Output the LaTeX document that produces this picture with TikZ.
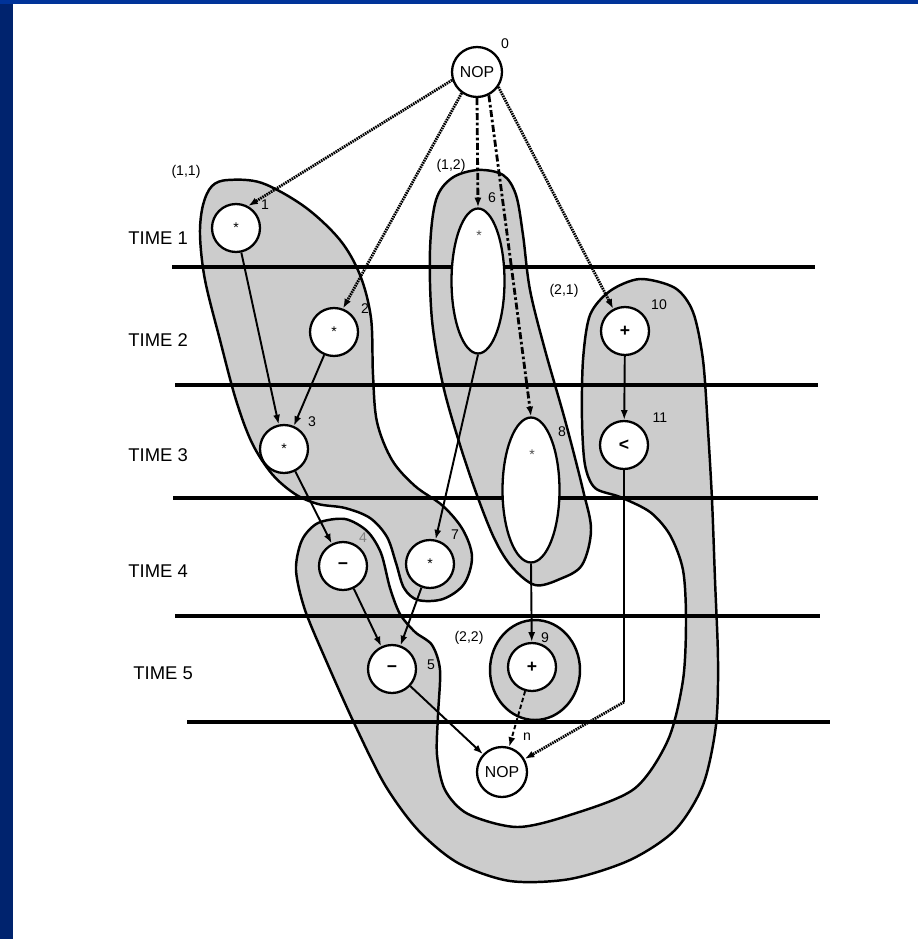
\documentclass[tikz,border=0pt]{standalone}
\usepackage{fontspec}
\setmainfont{Liberation Sans}
\usetikzlibrary{arrows.meta,shapes.geometric}
\definecolor{slideblue}{RGB}{0,51,153}
\definecolor{slidedark}{RGB}{0,35,110}
\definecolor{grp}{RGB}{204,204,204}
\begin{document}
\begin{tikzpicture}[x=0.02cm, y=-0.02cm,
    op/.style={circle, draw, line width=1.3pt, fill=white, minimum size=0.96cm, inner sep=0pt, font=\fontsize{10}{11}\selectfont\bfseries},
    nop/.style={op, minimum size=1cm, font=\fontsize{9}{10}\selectfont},
    oval/.style={ellipse, draw, line width=1.3pt, fill=white, minimum width=1.08cm, minimum height=2.9cm, inner sep=0pt},
    star/.style={font=\fontsize{8}{9}\selectfont, text=black!70, inner sep=0pt},
    num/.style={font=\fontsize{8}{9}\selectfont, inner sep=0pt},
    timelbl/.style={font=\fontsize{10.5}{12}\selectfont, anchor=west, inner sep=0pt},
    group/.style={fill=grp, draw, line width=1.4pt},
    tline/.style={line width=2.1pt},
    dep/.style={line width=1.1pt, -{Latex[length=5.5pt,width=4pt]}},
    seq/.style={dep, line width=1.6pt, dash pattern=on 0.9pt off 0.5pt},
    chain/.style={dep, line width=1.6pt, dash pattern=on 4pt off 1.5pt on 1.5pt off 1.5pt},
    lnk/.style={dep, dash pattern=on 2.5pt off 1.5pt}
  ]
  % slide frame
  \useasboundingbox (0,0) rectangle (918,939);
  \fill[white] (0,0) rectangle (918,939);
  \fill[slidedark] (0,0) rectangle (13,939);
  \fill[slideblue] (0,0) rectangle (918,4);

  % clusters
  \draw[group] plot[smooth cycle, tension=0.55] coordinates {
    (203,205) (212,186) (228,180) (262,183) (305,207) (340,240) (360,275)
    (371,318) (373,375) (377,422) (392,460) (415,486) (443,506) (463,530)
    (472,557) (464,584) (443,599) (418,600) (404,588) (396,563) (387,537)
    (370,518) (345,508) (318,504) (295,494) (272,474) (252,443) (236,400)
    (220,340) (205,280) (200,235)};
  \draw[group] plot[smooth cycle, tension=0.55] coordinates {
    (478,170) (503,175) (516,195) (523,235) (530,290) (545,350) (565,420)
    (583,490) (591,530) (582,565) (560,579) (535,585) (512,567) (495,540)
    (478,498) (460,445) (443,385) (432,320) (430,250) (436,200) (452,178)};
  \draw[group] plot[smooth cycle, tension=0.5] coordinates {
    (640,279) (675,288) (693,312) (703,360) (708,430) (712,500) (715,580)
    (718,660) (716,725) (703,785) (675,830) (630,860) (570,879) (510,881)
    (458,863) (418,830) (385,785) (355,725) (328,665) (305,610) (296,570)
    (302,540) (318,523) (345,519) (367,531) (381,553) (390,588) (400,614)
    (415,632) (432,645) (440,670) (438,715) (437,755) (445,790) (468,814)
    (517,827) (570,815) (634,789) (668,740) (683,680) (686,620) (683,570)
    (670,535) (650,512) (620,497) (595,488) (585,465) (582,420) (583,360)
    (590,315) (610,291)};
  \draw[group] (535,670) ellipse [x radius=0.9cm, y radius=1cm];

  % time steps
  \draw[tline] (172,267) -- (815,267);
  \draw[tline] (175,385) -- (818,385);
  \draw[tline, line width=2.8pt] (173,498) -- (818,498);
  \draw[tline] (175,616) -- (820,616);
  \draw[tline] (187,722) -- (830,722);
  \node[timelbl] (t1) at (128,238) {TIME 1};
  \node[timelbl] (t2) at (128,340) {TIME 2};
  \node[timelbl] (t3) at (128,455) {TIME 3};
  \node[timelbl] (t4) at (128,571) {TIME 4};
  \node[timelbl] (t5) at (133,673) {TIME 5};

  % operations
  \node[nop] (n0) at (477,72) {NOP};
  \node[op] (n1) at (236,228) {\mdseries\fontsize{8}{9}\selectfont *};
  \node[op] (n2) at (334,332) {\mdseries\fontsize{8}{9}\selectfont *};
  \node[op] (n3) at (284,449) {\mdseries\fontsize{8}{9}\selectfont *};
  \node[op] (n4) at (343,566) {\symbol{"2212}};
  \node[op] (n5) at (392,669) {\symbol{"2212}};
  \node[oval, minimum width=1.06cm] (n6) at (478,281) {};
  \node[op] (n7) at (430,564) {\mdseries\fontsize{8}{9}\selectfont *};
  \node[oval, minimum width=1.14cm] (n8) at (531,490) {};
  \node[op] (n9) at (532,667) {+};
  \node[op] (n10) at (625,331) {+};
  \node[op] (n11) at (624,445) {<};
  \node[nop] (nn) at (502,772) {NOP};
  \node[star] (s6) at (479,236) {*};
  \node[star] (s8) at (532,455) {*};

  % numbers and cluster names
  \node[num] (l0) at (505,44) {0};
  \node[num] (l1) at (265,205) {1};
  \node[num] (l2) at (365,309) {2};
  \node[num] (l3) at (312,422) {3};
  \node[num, gray] (l4) at (363,538) {4};
  \node[num] (l5) at (431,665) {5};
  \node[num] (l6) at (492,198) {6};
  \node[num] (l7) at (455,535) {7};
  \node[num] (l8) at (562,432) {8};
  \node[num] (l9) at (545,638) {9};
  \node[num] (l10) at (659,305) {10};
  \node[num] (l11) at (660,418) {11};
  \node[num] (ln) at (527,737) {n};
  \node[num] (g11) at (186,172) {(1,1)};
  \node[num] (g12) at (451,166) {(1,2)};
  \node[num] (g21) at (564,291) {(2,1)};
  \node[num] (g22) at (469,638) {(2,2)};

  % dependences
  \draw[seq] (n0.198) -- (n1.61);
  \draw[seq] (n0.234) -- (n2.69);
  \draw[chain] (n0.270) -- (n6.north);
  \draw[chain] (n0.297) -- (n8.north);
  \draw[seq] (n0.325) -- (n10.118);
  \draw[dep] (n1) -- (n3);
  \draw[dep] (n2) -- (n3);
  \draw[dep] (n3) -- (n4);
  \draw[dep] (n6.south) -- (n7);
  \draw[dep] (n4) -- (n5);
  \draw[dep] (n7) -- (n5);
  \draw[dep] (n8.south) -- (n9);
  \draw[dep] (n10) -- (n11);
  \draw[dep] (n5) -- (nn);
  \draw[lnk] (n9) -- (nn);
  \coordinate (k) at (624,702);
  \draw[line width=1.1pt] (n11) -- (k);
  \draw[seq] (k) -- (nn);
\end{tikzpicture}
\end{document}
